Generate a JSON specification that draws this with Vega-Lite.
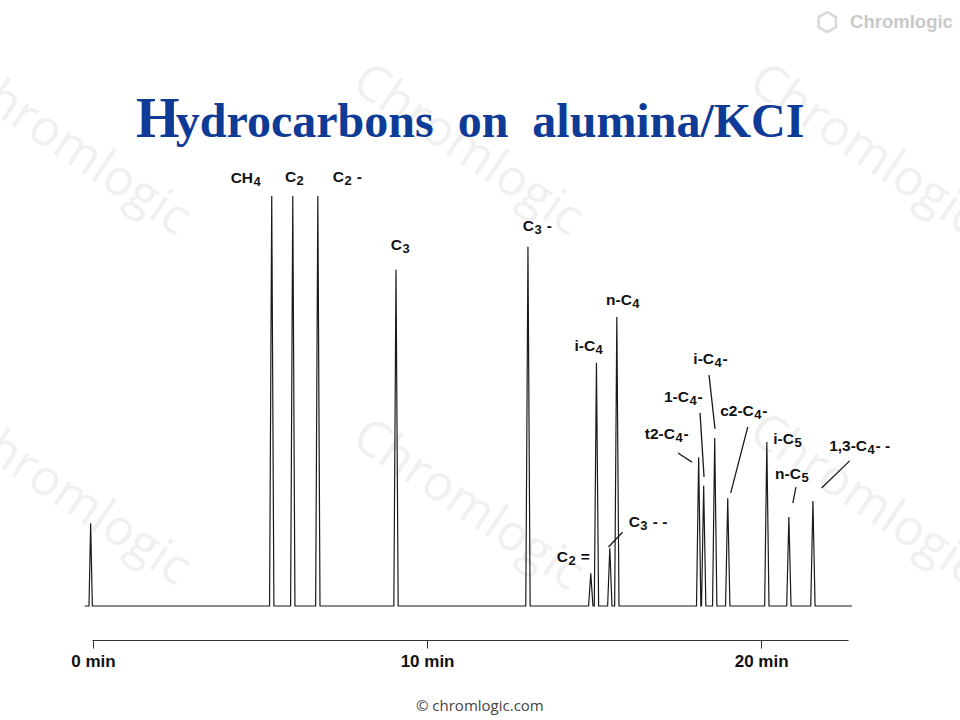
{
  "$schema": "https://vega.github.io/schema/vega-lite/v6.json",
  "autosize": {"type": "none"},
  "width": 756,
  "height": 533,
  "padding": {"left": 92, "top": 73, "right": 112, "bottom": 114},
  "background": "white",
  "config": {"view": {"stroke": null}},
  "datasets": {
    "watermark": [
      {"t": -0.54, "s": 111.2, "label": "Chromlogic"},
      {"t": 11.22, "s": 111.2, "label": "Chromlogic"},
      {"t": 23.1, "s": 111.2, "label": "Chromlogic"},
      {"t": -0.54, "s": 25.9, "label": "Chromlogic"},
      {"t": 11.22, "s": 24.6, "label": "Chromlogic"},
      {"t": 23.1, "s": 25.9, "label": "Chromlogic"}
    ],
    "trace": [
      {"t": -0.25, "s": 0},
      {"t": -0.12, "s": 0}, {"t": -0.07, "s": 20.2}, {"t": -0.02, "s": 0},
      {"t": 5.285, "s": 0}, {"t": 5.35, "s": 100}, {"t": 5.415, "s": 0},
      {"t": 5.915, "s": 0}, {"t": 5.98, "s": 100}, {"t": 6.045, "s": 0},
      {"t": 6.665, "s": 0}, {"t": 6.73, "s": 100}, {"t": 6.795, "s": 0},
      {"t": 9.005, "s": 0}, {"t": 9.07, "s": 82}, {"t": 9.135, "s": 0},
      {"t": 12.955, "s": 0}, {"t": 13.02, "s": 87.6}, {"t": 13.085, "s": 0},
      {"t": 14.835, "s": 0}, {"t": 14.9, "s": 8.0}, {"t": 14.965, "s": 0},
      {"t": 15.005, "s": 0}, {"t": 15.07, "s": 59.3}, {"t": 15.135, "s": 0},
      {"t": 15.405, "s": 0}, {"t": 15.47, "s": 14.1}, {"t": 15.535, "s": 0},
      {"t": 15.615, "s": 0}, {"t": 15.68, "s": 70.5}, {"t": 15.745, "s": 0},
      {"t": 18.065, "s": 0}, {"t": 18.13, "s": 36.3}, {"t": 18.195, "s": 0},
      {"t": 18.215, "s": 0}, {"t": 18.28, "s": 29.3}, {"t": 18.345, "s": 0},
      {"t": 18.545, "s": 0}, {"t": 18.61, "s": 41.0}, {"t": 18.675, "s": 0},
      {"t": 18.935, "s": 0}, {"t": 19.0, "s": 26.3}, {"t": 19.065, "s": 0},
      {"t": 20.105, "s": 0}, {"t": 20.17, "s": 40.0}, {"t": 20.235, "s": 0},
      {"t": 20.765, "s": 0}, {"t": 20.83, "s": 21.7}, {"t": 20.895, "s": 0},
      {"t": 21.485, "s": 0}, {"t": 21.55, "s": 25.6}, {"t": 21.615, "s": 0},
      {"t": 22.72, "s": 0}
    ],
    "leaders": [
      {"t": 17.51, "s": 37.3, "t2": 17.93, "s2": 35.1},
      {"t": 18.17, "s": 47.1, "t2": 18.29, "s2": 31.5},
      {"t": 18.44, "s": 56.3, "t2": 18.62, "s2": 43.2},
      {"t": 19.6, "s": 43.7, "t2": 19.09, "s2": 27.6},
      {"t": 21.04, "s": 29.0, "t2": 20.95, "s2": 25.1},
      {"t": 22.65, "s": 35.4, "t2": 21.81, "s2": 28.8},
      {"t": 15.85, "s": 18.0, "t2": 15.43, "s2": 14.4}
    ],
    "labels": [
      {"t": 4.79, "s": 104.4, "pre": "CH", "sub": "4", "post": ""},
      {"t": 6.08, "s": 104.6, "pre": "C", "sub": "2", "post": ""},
      {"t": 7.51, "s": 104.6, "pre": "C", "sub": "2", "post": "\u200b\u00a0-"},
      {"t": 9.25, "s": 88.0, "pre": "C", "sub": "3", "post": ""},
      {"t": 13.2, "s": 92.7, "pre": "C", "sub": "3", "post": "\u200b\u00a0-"},
      {"t": 16.13, "s": 74.6, "pre": "n-C", "sub": "4", "post": ""},
      {"t": 15.03, "s": 63.4, "pre": "i-C", "sub": "4", "post": ""},
      {"t": 18.59, "s": 60.2, "pre": "i-C", "sub": "4", "post": "-"},
      {"t": 17.84, "s": 51.0, "pre": "1-C", "sub": "4", "post": "-"},
      {"t": 19.78, "s": 47.6, "pre": "c2-C", "sub": "4", "post": "-"},
      {"t": 17.42, "s": 42.0, "pre": "t2-C", "sub": "4", "post": "-"},
      {"t": 20.98, "s": 40.7, "pre": "i-C", "sub": "5", "post": ""},
      {"t": 23.17, "s": 39.0, "pre": "1,3-C", "sub": "4", "post": "-\u00a0-"},
      {"t": 21.19, "s": 32.2, "pre": "n-C", "sub": "5", "post": ""},
      {"t": 16.37, "s": 20.5, "pre": "C", "sub": "3", "post": "\u200b\u00a0-\u00a0-"},
      {"t": 14.22, "s": 12.0, "pre": "C", "sub": "2", "post": "\u200b\u00a0="}
    ],
    "titleBig": [{"t": 1.29, "s": 114.4, "label": "H"}],
    "titleRest": [{"t": 2.48, "s": 114.4, "label": "ydrocarbons\u00a0\u00a0on\u00a0\u00a0alumina/KCI"}],
    "logo": [{"t": 25.74, "s": 141, "label": "Chromlogic"}],
    "logoIcon": [{"t": 21.98, "s": 142.4}],
    "copyright": [{"t": 11.58, "s": -24.4, "label": "© chromlogic.com"}]
  },
  "encoding": {
    "x": {
      "field": "t", "type": "quantitative",
      "scale": {"domain": [-0.03, 22.6], "nice": false, "zero": false},
      "axis": {
        "values": [0, 10, 20], "labelExpr": "datum.value + ' min'", "title": null,
        "grid": false, "offset": 34, "tickSize": 8, "tickColor": "#333", "tickWidth": 1,
        "domainColor": "#333", "domainWidth": 1.2, "labelFlush": false,
        "labelFont": "Liberation Sans", "labelFontWeight": "bold", "labelFontSize": 17,
        "labelColor": "#111", "labelPadding": 5, "labelDx": 6
      }
    },
    "y": {
      "field": "s", "type": "quantitative",
      "scale": {"domain": [0, 130], "nice": false, "zero": false},
      "axis": null
    }
  },
  "layer": [
    {
      "data": {"name": "watermark"},
      "mark": {"type": "text", "font": "Open Sans", "fontSize": 50, "color": "#f0f0f0", "angle": 34, "align": "center", "baseline": "middle"},
      "encoding": {"text": {"field": "label"}}
    },
    {
      "data": {"name": "logoIcon"},
      "mark": {"type": "point", "shape": "M0,-1 L0.866,-0.5 L0.866,0.5 L0,1 L-0.866,0.5 L-0.866,-0.5 Z", "size": 400, "filled": false, "stroke": "#c9c9c9", "strokeWidth": 2.5, "strokeJoin": "round"}
    },
    {
      "data": {"name": "logo"},
      "mark": {"type": "text", "font": "Liberation Sans", "fontWeight": "bold", "fontSize": 18.5, "color": "#c9c9c9", "align": "right", "baseline": "alphabetic"},
      "encoding": {"text": {"field": "label"}}
    },
    {
      "data": {"name": "trace"},
      "mark": {"type": "line", "color": "#1a1a1a", "strokeWidth": 1.2},
      "encoding": {}
    },
    {
      "data": {"name": "leaders"},
      "mark": {"type": "rule", "color": "#1a1a1a", "strokeWidth": 1.3},
      "encoding": {"x2": {"field": "t2"}, "y2": {"field": "s2"}}
    },
    {
      "data": {"name": "labels"},
      "mark": {"type": "text", "font": "Liberation Sans", "fontWeight": "bold", "fontSize": 15.5, "color": "#111", "align": "right", "baseline": "middle"},
      "encoding": {"text": {"field": "pre"}}
    },
    {
      "data": {"name": "labels"},
      "mark": {"type": "text", "font": "Liberation Sans", "fontWeight": "bold", "fontSize": 13, "color": "#111", "align": "left", "baseline": "middle", "dx": 0.5, "dy": 4},
      "encoding": {"text": {"field": "sub"}}
    },
    {
      "data": {"name": "labels"},
      "mark": {"type": "text", "font": "Liberation Sans", "fontWeight": "bold", "fontSize": 15.5, "color": "#111", "align": "left", "baseline": "middle", "dx": 8.5},
      "encoding": {"text": {"field": "post"}}
    },
    {
      "data": {"name": "titleBig"},
      "mark": {"type": "text", "font": "Liberation Serif", "fontWeight": "bold", "fontSize": 56, "color": "#0e3b96", "align": "left", "baseline": "alphabetic"},
      "encoding": {"text": {"field": "label"}}
    },
    {
      "data": {"name": "titleRest"},
      "mark": {"type": "text", "font": "Liberation Serif", "fontWeight": "bold", "fontSize": 48, "color": "#0e3b96", "align": "left", "baseline": "alphabetic"},
      "encoding": {"text": {"field": "label"}}
    },
    {
      "data": {"name": "copyright"},
      "mark": {"type": "text", "font": "Open Sans", "fontSize": 15, "color": "#444", "align": "center", "baseline": "middle"},
      "encoding": {"text": {"field": "label"}}
    }
  ]
}
